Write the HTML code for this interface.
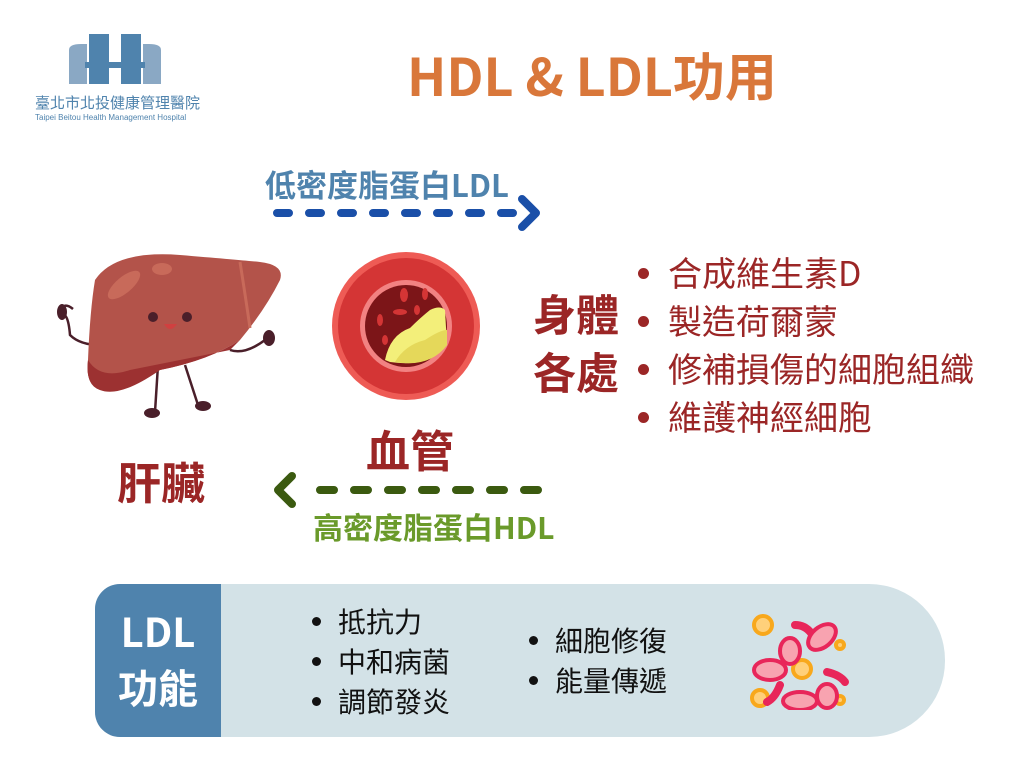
<!DOCTYPE html>
<html><head><meta charset="utf-8"><style>
body{margin:0;width:1024px;height:768px;background:#fff;position:relative;overflow:hidden;font-family:"Liberation Sans","Noto Sans CJK TC",sans-serif}
.a{position:absolute;white-space:nowrap}
.cj{font-family:"Noto Sans CJK TC","Liberation Sans",sans-serif}
ul{margin:0;padding:0;list-style:none}
.r li,.b li{position:relative}
.r li:before{content:"";position:absolute;left:-30px;top:20px;width:11px;height:11px;border-radius:50%;background:#9b2626}
.b li:before{content:"";position:absolute;left:-26px;top:16px;width:9px;height:9px;border-radius:50%;background:#111}
</style></head><body>
<svg class="a" style="left:65px;top:32px" width="100" height="55">
<path d="M4 52 V18 Q4 12 16 12 H22 V52Z" fill="#8aa8c4"/>
<path d="M96 52 V18 Q96 12 84 12 H78 V52Z" fill="#8aa8c4"/>
<rect x="24" y="2" width="20" height="50" fill="#4f83ad"/>
<rect x="56" y="2" width="20" height="50" fill="#4f83ad"/>
<rect x="20" y="30" width="60" height="6" fill="#4f83ad"/>
</svg>
<div class="a cj" style="left:35px;top:92px;font-size:15px;color:#4f83ad">臺北市北投健康管理醫院</div>
<div class="a" style="left:35px;top:113px;font-size:8px;color:#4f83ad">Taipei Beitou Health Management Hospital</div>
<div class="a cj" style="left:407px;top:36px;font-size:52px;font-weight:bold;color:#d9773a">HDL &amp; LDL功用</div>
<div class="a cj" style="left:265px;top:161px;font-size:31px;font-weight:bold;color:#4f83ad">低密度脂蛋白LDL</div>
<svg class="a" style="left:270px;top:195px" width="280" height="40">
<line x1="7" y1="18" x2="250" y2="18" stroke="#1a4fa8" stroke-width="8" stroke-linecap="round" stroke-dasharray="12 20"/>
<path d="M252 4 L266 18 L252 32" fill="none" stroke="#1a4fa8" stroke-width="8" stroke-linecap="round" stroke-linejoin="round"/>
</svg>
<svg class="a" style="left:270px;top:472px" width="280" height="40">
<line x1="50" y1="18" x2="270" y2="18" stroke="#3b5a10" stroke-width="8" stroke-linecap="round" stroke-dasharray="14 20"/>
<path d="M22 4 L8 18 L22 32" fill="none" stroke="#3b5a10" stroke-width="8" stroke-linecap="round" stroke-linejoin="round"/>
</svg>
<div class="a cj" style="left:313px;top:504px;font-size:30px;font-weight:bold;color:#6a9a2a">高密度脂蛋白HDL</div>
<svg class="a" style="left:40px;top:240px" width="250" height="180">
<path d="M33 69 Q22 60 20 75 Q28 70 30 95 Q40 105 60 105" fill="none" stroke="#4a1f2a" stroke-width="2.5"/>
<ellipse cx="22" cy="72" rx="5" ry="8" fill="#4a1f2a"/>
<path d="M190 110 Q205 115 225 100" fill="none" stroke="#4a1f2a" stroke-width="2.5"/>
<ellipse cx="229" cy="98" rx="6" ry="8" fill="#4a1f2a"/>
<path d="M118 125 L115 172 M145 125 L158 165" stroke="#4a1f2a" stroke-width="2.5"/>
<ellipse cx="112" cy="173" rx="8" ry="5" fill="#4a1f2a"/><ellipse cx="163" cy="166" rx="8" ry="5" fill="#4a1f2a"/>
<path d="M55 40 Q75 10 140 15 Q200 20 220 22 Q245 25 240 40 Q225 70 200 100 Q170 120 120 130 Q80 155 60 150 Q45 145 48 120 Q50 70 55 40Z" fill="#b3534a"/>
<path d="M48 120 Q60 140 90 130 Q140 120 190 110 L200 100 Q170 120 120 130 Q80 158 60 150 Q45 145 48 120Z" fill="#9c3131"/>
<path d="M200 22 Q206 60 210 88" stroke="#c86a5a" stroke-width="3" fill="none"/>
<ellipse cx="84" cy="45" rx="20" ry="8" fill="#c86a5a" transform="rotate(-40 84 45)"/>
<ellipse cx="122" cy="29" rx="10" ry="6" fill="#c86a5a"/>
<circle cx="113" cy="77" r="5" fill="#4a1f2a"/><circle cx="147" cy="77" r="5" fill="#4a1f2a"/>
<path d="M124 84 Q130 94 137 84Z" fill="#d04040"/>
</svg>
<div class="a cj" style="left:117px;top:448px;font-size:44px;font-weight:bold;color:#9b2626">肝臟</div>
<svg class="a" style="left:330px;top:250px" width="152" height="152">
<circle cx="76" cy="76" r="74" fill="#ee5b55"/>
<circle cx="76" cy="76" r="68" fill="#d43535"/>
<circle cx="76" cy="76" r="46" fill="#f28282"/>
<circle cx="76" cy="76" r="41" fill="#7c1518"/>
<path d="M55 110 Q60 85 80 78 Q90 68 100 60 Q110 55 115 60 L117 95 Q100 118 60 112Z" fill="#f3ef7a"/>
<path d="M65 112 Q75 95 95 90 Q110 80 117 80 L117 95 Q100 118 65 112Z" fill="#e5d85a"/>
<ellipse cx="74" cy="45" rx="4" ry="7" fill="#d43535"/><ellipse cx="95" cy="44" rx="3" ry="6" fill="#d43535"/>
<ellipse cx="70" cy="62" rx="7" ry="3" fill="#d43535"/><ellipse cx="50" cy="70" rx="3" ry="6" fill="#d43535"/>
<ellipse cx="55" cy="90" rx="3" ry="5" fill="#d43535"/><ellipse cx="87" cy="60" rx="3" ry="5" fill="#d43535"/>
</svg>
<div class="a cj" style="left:366px;top:416px;font-size:44px;font-weight:bold;color:#9b2626">血管</div>
<div class="a cj" style="left:533px;top:284px;font-size:43px;font-weight:bold;color:#9b2626;line-height:58px">身體<br>各處</div>
<ul class="a r cj" style="left:668px;top:248px;font-size:34px;color:#9b2626;line-height:48px">
<li>合成維生素D</li><li>製造荷爾蒙</li><li>修補損傷的細胞組織</li><li>維護神經細胞</li></ul>
<div class="a" style="left:95px;top:584px;width:850px;height:153px;background:#d3e2e7;border-radius:25px 76px 76px 25px"></div>
<div class="a cj" style="left:95px;top:584px;width:126px;height:153px;background:#4f83ad;border-radius:25px 0 0 25px;color:#fff;font-size:40px;font-weight:bold;text-align:center;line-height:56px;padding-top:18px;box-sizing:border-box">LDL<br>功能</div>
<ul class="a b cj" style="left:338px;top:601px;font-size:28px;color:#111;line-height:40px"><li>抵抗力</li><li>中和病菌</li><li>調節發炎</li></ul>
<ul class="a b cj" style="left:555px;top:620px;font-size:28px;color:#111;line-height:40px"><li>細胞修復</li><li>能量傳遞</li></ul>
<svg class="a" style="left:745px;top:610px" width="110" height="100" fill="#f8a3b0" stroke="#e8265a" stroke-width="4">
<circle cx="18" cy="15" r="9" fill="#ffd07a" stroke="#f8a81c"/>
<circle cx="57" cy="59" r="9" fill="#ffd07a" stroke="#f8a81c"/>
<circle cx="15" cy="88" r="8" fill="#ffd07a" stroke="#f8a81c"/>
<circle cx="95" cy="35" r="4" fill="#ffd07a" stroke="#f8a81c"/>
<circle cx="95" cy="90" r="4" fill="#ffd07a" stroke="#f8a81c"/>
<path d="M50 15 Q60 15 66 23" fill="none" stroke-width="8" stroke-linecap="round"/>
<ellipse cx="77" cy="27" rx="16" ry="10" transform="rotate(-40 77 27)"/>
<ellipse cx="45" cy="41" rx="10" ry="13"/>
<ellipse cx="25" cy="60" rx="16" ry="10"/>
<path d="M82 62 Q95 65 100 72" fill="none" stroke-width="8" stroke-linecap="round"/>
<path d="M35 75 Q30 88 22 92" fill="none" stroke-width="8" stroke-linecap="round"/>
<ellipse cx="55" cy="91" rx="17" ry="9"/>
<ellipse cx="82" cy="86" rx="10" ry="12"/>
</svg>
</body></html>
